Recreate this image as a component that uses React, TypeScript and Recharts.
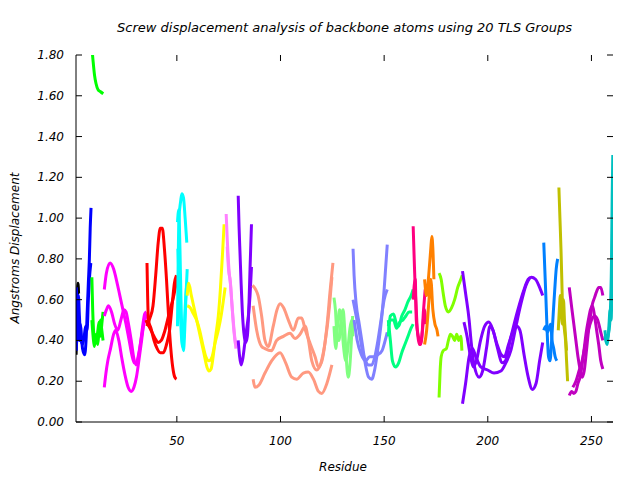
import React from 'react';
import { LineChart, Line, XAxis, YAxis } from 'recharts';

type Pt = [number, number];

// screw displacement per residue (Å), one or more backbone traces per TLS group
const blk: Pt[] = [[1.4, 0.33], [1.7, 0.46], [2.0, 0.6], [2.3, 0.68], [2.6, 0.63]];

const blueA: Pt[] = [[1.5, 0.66], [2, 0.55], [2.5, 0.45], [3, 0.4], [3.5, 0.48], [4, 0.42], [4.5, 0.36], [5.5, 0.33], [6.2, 0.4], [6.8, 0.55], [7.3, 0.68], [7.8, 0.8], [8.2, 0.95], [8.6, 1.05]];
const blueB: Pt[] = [[1.5, 0.35], [2, 0.5], [2.5, 0.62], [3, 0.52], [3.5, 0.42], [4.5, 0.38], [5.3, 0.42], [6, 0.47], [6.7, 0.45], [7.3, 0.6], [7.8, 0.7], [8.5, 0.78]];

const greenTop: Pt[] = [[8.8, 1.86], [9.5, 1.78], [10.3, 1.7], [11, 1.66], [12, 1.63], [13.2, 1.62], [14.5, 1.61]];
const greenA: Pt[] = [[9, 0.71], [9.4, 0.55], [9.8, 0.45], [10.4, 0.39], [11.2, 0.4], [11.8, 0.44], [12.5, 0.49], [13.2, 0.42], [13.8, 0.48], [14.4, 0.54]];
const greenB: Pt[] = [[9, 0.5], [9.6, 0.42], [10.2, 0.37], [11, 0.43], [11.8, 0.38], [12.5, 0.45], [13.2, 0.5], [13.8, 0.45], [14.4, 0.4]];

const magA: Pt[] = [[15, 0.65], [16, 0.73], [17.8, 0.78], [19.5, 0.75], [21, 0.69], [22.5, 0.62], [24, 0.55], [25.5, 0.48], [27, 0.4], [28.5, 0.32], [29.5, 0.29], [30.5, 0.29], [31.5, 0.33], [32.5, 0.39], [33.5, 0.47], [34.5, 0.53], [35.3, 0.54]];
const magB: Pt[] = [[15, 0.52], [16, 0.55], [17, 0.57], [18.5, 0.54], [20, 0.48], [21.5, 0.45], [23, 0.5], [24.5, 0.55], [25.5, 0.54], [26.5, 0.49], [28, 0.4], [29.3, 0.31], [30.3, 0.28], [31.5, 0.32], [33, 0.42], [34.5, 0.5], [35.3, 0.52]];
const magC: Pt[] = [[15, 0.17], [15.8, 0.24], [16.7, 0.3], [18, 0.36], [19.5, 0.43], [20.5, 0.45], [22, 0.4], [23.5, 0.31], [25, 0.23], [26.5, 0.17], [28, 0.15], [29.3, 0.17], [30.5, 0.22], [31.8, 0.31], [33, 0.4], [34.3, 0.5], [35.2, 0.53]];

const redA: Pt[] = [[35.6, 0.78], [35.9, 0.62], [36.3, 0.5], [37.5, 0.46], [39, 0.4], [40.5, 0.36], [42, 0.34], [43.5, 0.34], [45, 0.38], [46.5, 0.45], [47.7, 0.57], [48.8, 0.68], [49.8, 0.72]];
const redB: Pt[] = [[35.5, 0.47], [37, 0.51], [38.5, 0.57], [39.8, 0.72], [41, 0.88], [42, 0.95], [43, 0.95], [44, 0.85], [45, 0.7], [46, 0.52], [47, 0.37], [48, 0.27], [49, 0.22], [49.8, 0.21]];
const redC: Pt[] = [[35, 0.5], [36.5, 0.47], [38, 0.44], [39.5, 0.41], [41, 0.39], [42.5, 0.4], [44, 0.44], [45.5, 0.5], [47, 0.56], [48.3, 0.61], [49.3, 0.66], [50, 0.7]];

const cyanA: Pt[] = [[50.3, 0.47], [50.6, 0.75], [51, 1.0], [51.8, 1.08], [52.4, 1.12], [53.2, 1.1], [54, 1.0], [54.8, 0.88]];
const cyanB: Pt[] = [[50.3, 0.98], [50.9, 1.04], [51.5, 0.85], [52, 0.6], [52.6, 0.4], [53.2, 0.35], [53.8, 0.45], [54.4, 0.62], [55, 0.75]];
const cyanC: Pt[] = [[50.5, 0.85], [51.2, 0.66], [52, 0.46], [52.7, 0.37], [53.4, 0.42], [54.1, 0.58], [54.8, 0.68]];

const yelA: Pt[] = [[55, 0.62], [55.7, 0.68], [57, 0.62], [58.5, 0.55], [60, 0.48], [61.5, 0.41], [63, 0.34], [64.5, 0.27], [65.5, 0.25], [66.5, 0.26], [67.5, 0.32], [68.7, 0.42], [70, 0.52], [71, 0.65], [72, 0.82], [72.8, 0.97]];
const yelB: Pt[] = [[55, 0.57], [56.5, 0.56], [58, 0.53], [59.5, 0.5], [61, 0.45], [62.5, 0.38], [64, 0.32], [65.5, 0.3], [67, 0.32], [68.5, 0.39], [70, 0.45], [71.5, 0.53], [72.5, 0.6], [73.3, 0.66]];

const pinkA: Pt[] = [[73.8, 1.02], [74.3, 0.9], [74.8, 0.8], [75.3, 0.73], [76, 0.66], [76.7, 0.56], [77.4, 0.46], [78.3, 0.38]];
const pinkB: Pt[] = [[74.3, 0.86], [75, 0.74], [75.8, 0.69], [76.4, 0.6], [77, 0.52], [77.7, 0.44], [78.5, 0.36]];

const vioA: Pt[] = [[79.6, 1.11], [80, 0.96], [80.5, 0.82], [81, 0.68], [81.6, 0.54], [82.3, 0.44], [83.2, 0.39], [84, 0.42], [84.7, 0.55], [85.3, 0.75], [86, 0.97]];
const vioB: Pt[] = [[79.6, 0.4], [80.3, 0.32], [81, 0.28], [81.8, 0.31], [82.7, 0.38], [83.6, 0.45], [84.5, 0.52], [85.3, 0.62], [86, 0.76]];

const salA: Pt[] = [[86.5, 0.67], [88, 0.65], [89.2, 0.62], [90.9, 0.52], [92.5, 0.4], [94.1, 0.37], [96.5, 0.47], [98.3, 0.55], [99.8, 0.58], [101.5, 0.56], [103.8, 0.5], [106.2, 0.45], [108.6, 0.51], [110.2, 0.51], [112, 0.45], [114.3, 0.385], [116.7, 0.32], [118.3, 0.27], [120, 0.3], [122.4, 0.47], [124, 0.65], [125.3, 0.78]];
const salB: Pt[] = [[86.8, 0.57], [88.5, 0.45], [90.9, 0.37], [92.5, 0.36], [95.7, 0.35], [98.1, 0.4], [101.4, 0.42], [104.6, 0.435], [107, 0.41], [109.4, 0.43], [111.9, 0.47], [113.5, 0.4], [115.1, 0.3], [117.5, 0.255], [119.5, 0.29], [121.5, 0.39], [123.6, 0.565], [124.8, 0.71]];
const salC: Pt[] = [[86.8, 0.21], [87.7, 0.17], [89.5, 0.18], [92.5, 0.24], [95.7, 0.3], [99.8, 0.34], [102.5, 0.29], [105.4, 0.22], [107.8, 0.21], [111, 0.24], [113.4, 0.245], [115.9, 0.21], [118.3, 0.15], [119.9, 0.14], [122.4, 0.19], [124.8, 0.28]];

const lgA: Pt[] = [[125.8, 0.61], [126.5, 0.55], [127.3, 0.42], [128.2, 0.4], [129.2, 0.5], [130.2, 0.55], [131, 0.45], [131.8, 0.3], [132.7, 0.22], [133.5, 0.28], [134.3, 0.42], [134.8, 0.52]];
const lgB: Pt[] = [[125.8, 0.47], [126.7, 0.36], [127.6, 0.48], [128.5, 0.55], [129.5, 0.48], [130.5, 0.36], [131.5, 0.3], [132.5, 0.36], [133.5, 0.46], [134.5, 0.5], [134.9, 0.42]];

const pwA: Pt[] = [[135, 0.85], [135.5, 0.72], [136.5, 0.58], [138, 0.48], [139.5, 0.38], [141, 0.28], [142.5, 0.22], [144, 0.21], [145.5, 0.26], [147, 0.36], [148.5, 0.48], [150, 0.65], [151.5, 0.87]];
const pwB: Pt[] = [[135, 0.6], [136.5, 0.52], [138, 0.44], [139.5, 0.35], [141, 0.3], [142.5, 0.28], [144, 0.28], [145.5, 0.32], [147, 0.4], [148.5, 0.5], [150, 0.6], [151.5, 0.65]];
const pwC: Pt[] = [[135.5, 0.5], [137, 0.4], [139, 0.33], [141, 0.3], [143, 0.32], [145, 0.32], [147, 0.33], [149, 0.35], [150.5, 0.4], [151.5, 0.44]];

const sgA: Pt[] = [[152, 0.5], [153, 0.4], [154, 0.3], [155.5, 0.27], [157, 0.29], [158.5, 0.34], [160, 0.38], [161.5, 0.42], [163, 0.46], [164, 0.48]];
const sgB: Pt[] = [[152, 0.42], [153, 0.52], [154.5, 0.53], [156, 0.48], [157, 0.47], [158.5, 0.52], [160, 0.55], [161.5, 0.59], [163, 0.62], [164, 0.65]];
const sgC: Pt[] = [[152, 0.47], [153, 0.5], [154.5, 0.5], [156, 0.46], [157.5, 0.49], [159, 0.5], [160.5, 0.52], [162, 0.54], [163.5, 0.54]];

const hpA: Pt[] = [[164, 0.96], [164.5, 0.8], [165, 0.65], [165.5, 0.55], [166, 0.45], [167, 0.38], [168, 0.4], [169, 0.55], [169.8, 0.65]];
const hpB: Pt[] = [[164, 0.6], [165, 0.7], [165.5, 0.5], [166.5, 0.42], [167.5, 0.38], [168.5, 0.45], [169.5, 0.55], [170, 0.48]];

const orA: Pt[] = [[169.5, 0.7], [170.5, 0.62], [171.5, 0.72], [172.5, 0.85], [173, 0.91], [173.5, 0.85], [174, 0.7]];
const orB: Pt[] = [[169.5, 0.38], [170.5, 0.45], [171.5, 0.58], [172.5, 0.7], [173.5, 0.55], [174.5, 0.48], [175.5, 0.45], [176, 0.42]];

const chA: Pt[] = [[176.5, 0.73], [177.5, 0.7], [178.5, 0.63], [179.5, 0.57], [181, 0.54], [182.5, 0.56], [184, 0.6], [185.5, 0.66], [187, 0.7], [187.7, 0.72]];
const chB: Pt[] = [[176.5, 0.12], [177, 0.25], [177.5, 0.32], [178.5, 0.35], [180, 0.36], [181, 0.4], [182, 0.43], [183, 0.42], [184, 0.4], [185, 0.43], [186, 0.4], [187, 0.42], [187.5, 0.35]];

const pvA: Pt[] = [[187.8, 0.74], [189.3, 0.63], [191, 0.5], [192, 0.39], [193.4, 0.28], [195.8, 0.22], [197.5, 0.25], [199.5, 0.37], [201, 0.47], [202.5, 0.45], [204.5, 0.37], [207, 0.29], [208.5, 0.3], [211, 0.41], [214.5, 0.55], [217.5, 0.65], [219.5, 0.7], [221, 0.71], [223, 0.7], [225, 0.66], [226.5, 0.62]];
const pvB: Pt[] = [[187.8, 0.09], [189.3, 0.19], [191, 0.32], [192.6, 0.36], [194.2, 0.32], [196.6, 0.27], [199.9, 0.255], [203, 0.24], [206.3, 0.25], [208.7, 0.29], [211.1, 0.35], [213.6, 0.47], [216, 0.58], [218.4, 0.67], [220.5, 0.71]];
const pvC: Pt[] = [[188.5, 0.49], [190, 0.42], [191.5, 0.33], [193, 0.27], [194.5, 0.3], [196.5, 0.4], [198.5, 0.47], [200.5, 0.49], [202.5, 0.45], [204.5, 0.38], [206.5, 0.33], [208, 0.32], [210, 0.38], [212, 0.44], [214, 0.47], [215.5, 0.45], [217.5, 0.33], [219.5, 0.22], [221.5, 0.16], [223.3, 0.19], [225, 0.3], [226.5, 0.39]];

const azA: Pt[] = [[227, 0.88], [227.5, 0.75], [228, 0.62], [228.5, 0.48], [229.3, 0.32], [230, 0.3], [230.8, 0.4], [231.5, 0.52], [232.3, 0.65], [233, 0.75], [233.7, 0.8]];
const azB: Pt[] = [[227, 0.45], [228, 0.47], [228.8, 0.44], [229.5, 0.46], [230.3, 0.48], [231, 0.4], [231.8, 0.36], [232.5, 0.32], [233.3, 0.3]];

const olA: Pt[] = [[234.3, 1.15], [234.8, 1.0], [235.3, 0.85], [235.7, 0.7], [236, 0.58], [236.5, 0.5], [237, 0.45], [237.5, 0.4], [238, 0.3], [238.5, 0.2]];
const olB: Pt[] = [[234, 0.45], [234.5, 0.55], [235, 0.62], [235.5, 0.55], [236, 0.48], [236.5, 0.6], [237, 0.5], [237.5, 0.42], [238, 0.35]];

const dmA: Pt[] = [[239.3, 0.66], [240.5, 0.56], [241.5, 0.48], [242.5, 0.4], [243.5, 0.32], [244.5, 0.26], [245.5, 0.22], [246.5, 0.25], [247.5, 0.34], [248.5, 0.44], [249.5, 0.52], [250.5, 0.58], [251.5, 0.61], [252.5, 0.64], [253.5, 0.66], [254.5, 0.66], [255.5, 0.62]];
const dmB: Pt[] = [[239.3, 0.13], [240.5, 0.15], [241.5, 0.14], [242.5, 0.15], [243.5, 0.19], [244.5, 0.22], [245.5, 0.28], [246.5, 0.36], [247.5, 0.44], [248.5, 0.5], [249.5, 0.55], [250.5, 0.57], [251.5, 0.52], [252.5, 0.45], [253.5, 0.38], [254.5, 0.3], [255.5, 0.26]];
const dmC: Pt[] = [[241, 0.17], [242.5, 0.2], [244, 0.25], [245.5, 0.3], [247, 0.38], [248.5, 0.45], [250, 0.5], [251.5, 0.52], [253, 0.5], [254.5, 0.44], [255.5, 0.4]];

const tlA: Pt[] = [[256.5, 0.45], [257.3, 0.4], [258, 0.42], [258.8, 0.48], [259.3, 0.6], [259.7, 0.8], [260, 1.1], [260.3, 1.31]];
const tlB: Pt[] = [[256.5, 0.42], [257.5, 0.38], [258.3, 0.45], [259, 0.55], [259.5, 0.5], [259.9, 0.7], [260.2, 1.0]];

const groups: { color: string; curves: Pt[][] }[] = [
  { color: '#000000', curves: [blk] },
  { color: '#0000ff', curves: [blueA, blueB] },
  { color: '#00ff00', curves: [greenTop, greenA, greenB] },
  { color: '#ff00ff', curves: [magA, magB, magC] },
  { color: '#ff0000', curves: [redA, redB, redC] },
  { color: '#00ffff', curves: [cyanA, cyanB, cyanC] },
  { color: '#ffff00', curves: [yelA, yelB] },
  { color: '#ff80ff', curves: [pinkA, pinkB] },
  { color: '#8000ff', curves: [vioA, vioB] },
  { color: '#ff9980', curves: [salA, salB, salC] },
  { color: '#80ff80', curves: [lgA, lgB] },
  { color: '#8080ff', curves: [pwA, pwB, pwC] },
  { color: '#00ff80', curves: [sgA, sgB, sgC] },
  { color: '#ff0080', curves: [hpA, hpB] },
  { color: '#ff8000', curves: [orA, orB] },
  { color: '#80ff00', curves: [chA, chB] },
  { color: '#8000ff', curves: [pvA, pvB, pvC] },
  { color: '#0080ff', curves: [azA, azB] },
  { color: '#c0c000', curves: [olA, olB] },
  { color: '#c000c0', curves: [dmA, dmB, dmC] },
  { color: '#00c0c0', curves: [tlA, tlB] },
];

const xTicks = [50, 100, 150, 200, 250];
const yTicks = [0, 0.2, 0.4, 0.6, 0.8, 1.0, 1.2, 1.4, 1.6, 1.8];
const xDomain: [number, number] = [1.35, 260.4];

const LEFT = 76;
const RIGHT = 613;
const TOP = 55;
const BOTTOM = 422;
const font = { fontFamily: 'DejaVu Sans', fontStyle: 'italic', fontSize: 12 } as const;

const YTick = ({ y, payload }: any) => (
  <g>
    <line x1={LEFT} x2={LEFT + 6} y1={y} y2={y} stroke="#000" />
    <line x1={RIGHT} x2={RIGHT - 6} y1={y} y2={y} stroke="#000" />
    <text x={LEFT - 12} y={y + 4} textAnchor="end" fill="#000" {...font}>
      {Number(payload.value).toFixed(2)}
    </text>
  </g>
);

const XTick = ({ x, payload }: any) => (
  <g>
    <line x1={x} x2={x} y1={BOTTOM} y2={BOTTOM - 6} stroke="#000" />
    <line x1={x} x2={x} y1={TOP} y2={TOP + 6} stroke="#000" />
    <text x={x} y={445} textAnchor="middle" fill="#000" {...font}>
      {payload.value}
    </text>
  </g>
);

const App = () => {
  return (
    <div style={{ position: 'absolute', left: 0, top: 0, width: 640, height: 480, background: '#fff' }}>
      <LineChart width={640} height={480} margin={{ top: TOP, right: 640 - RIGHT, left: 0, bottom: 0 }}>
        <XAxis
          type="number"
          dataKey="x"
          domain={xDomain}
          allowDataOverflow
          ticks={xTicks}
          interval={0}
          height={480 - BOTTOM}
          tick={<XTick />}
          tickLine={false}
          axisLine={{ stroke: '#000' }}
        />
        <XAxis xAxisId="top" orientation="top" type="number" domain={xDomain} height={0} tick={false} tickLine={false} axisLine={{ stroke: '#000' }} />
        <YAxis
          type="number"
          domain={[0, 1.8]}
          allowDataOverflow
          ticks={yTicks}
          interval={0}
          width={LEFT}
          tick={<YTick />}
          tickLine={false}
          axisLine={{ stroke: '#000' }}
        />
        <YAxis yAxisId="right" orientation="right" type="number" domain={[0, 1.8]} width={0} tick={false} tickLine={false} axisLine={{ stroke: '#000' }} />
        {groups.map((g, gi) =>
          g.curves.map((c, ci) => (
            <Line
              key={`g${gi}-${ci}`}
              data={c.map(([x, y]) => ({ x, y }))}
              dataKey="y"
              type="monotone"
              stroke={g.color}
              strokeWidth={3}
              dot={false}
              activeDot={false}
              isAnimationActive={false}
            />
          ))
        )}
      </LineChart>
      <div style={{ position: 'absolute', left: LEFT, width: RIGHT - LEFT, top: 20, textAlign: 'center', lineHeight: '15px', ...font, fontSize: 13 }}>
        Screw displacement analysis of backbone atoms using 20 TLS Groups
      </div>
      <div
        style={{
          position: 'absolute',
          left: 15,
          top: 248,
          transform: 'translate(-50%, -50%) rotate(-90deg)',
          whiteSpace: 'nowrap',
          lineHeight: '14px',
          ...font,
        }}
      >
        Angstroms Displacement
      </div>
      <div style={{ position: 'absolute', left: 343, top: 467, transform: 'translate(-50%, -50%)', lineHeight: '14px', ...font }}>
        Residue
      </div>
    </div>
  );
};

export default App;
